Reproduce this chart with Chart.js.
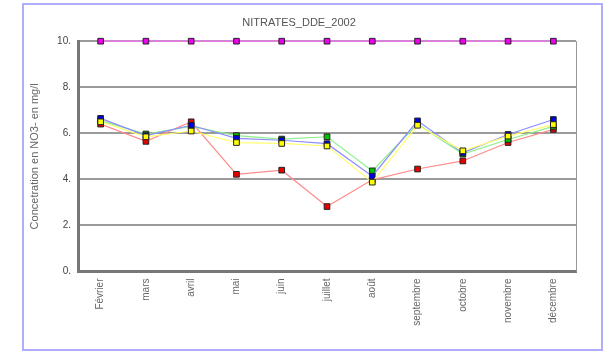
<!DOCTYPE html>
<html lang="fr">
<head>
    <meta charset="UTF-8">
    <title>NITRATES_DDE_2002</title>
    <script src="https://cdn.jsdelivr.net/npm/chart.js"></script>
    <style>
        body {
            margin: 0;
            padding: 0;
            background-color: white;
        }
        canvas {
            display: block;
        }
    </style>
</head>
<body>
    <canvas id="nitrateChart" width="604" height="353"></canvas>

    <script>
        const months = ['Février', 'mars', 'avril', 'mai', 'juin', 'juillet', 'août',
            'septembre', 'octobre', 'novembre', 'décembre'];
        const yTicks = [0, 2, 4, 6, 8, 10];

        const seuil = [10, 10, 10, 10, 10, 10, 10, 10, 10, 10, 10];
        const station1 = [6.4, 5.65, 6.5, 4.22, 4.4, 2.82, 3.98, 4.45, 4.8, 5.6, 6.17];   // rouge
        const station2 = [6.55, 5.97, 6.3, 5.9, 5.75, 5.85, 4.37, 6.4, 5.1, 5.73, 6.3];   // vert
        const station3 = [6.65, 5.9, 6.35, 5.78, 5.7, 5.55, 4.14, 6.54, 5.15, 5.95, 6.6]; // bleu
        const station4 = [6.5, 5.85, 6.1, 5.6, 5.56, 5.45, 3.88, 6.35, 5.24, 5.88, 6.38]; // jaune

        function serie(label, data, line, mark, order) {
            return {
                label: label,
                data: data,
                borderColor: line,
                borderWidth: 1.2,
                backgroundColor: mark,
                pointStyle: 'rect',
                pointRadius: 4,
                pointBorderColor: '#222',
                pointBorderWidth: 1,
                pointBackgroundColor: mark,
                tension: 0,
                clip: false,
                order: order
            };
        }

        // cadre bleu + bord droit de la zone de tracé
        const cadre = {
            id: 'cadre',
            beforeDraw(chart) {
                const c = chart.ctx;
                c.save();
                c.fillStyle = 'white';
                c.fillRect(0, 0, chart.width, chart.height);
                c.strokeStyle = '#aeaefc';
                c.lineWidth = 2;
                c.strokeRect(23, 4, 579, 346);
                c.restore();
            },
            beforeDatasetsDraw(chart) {
                const a = chart.chartArea;
                const c = chart.ctx;
                c.save();
                c.strokeStyle = '#999';
                c.lineWidth = 1;
                c.beginPath();
                c.moveTo(a.right + 0.5, a.top);
                c.lineTo(a.right + 0.5, a.bottom);
                c.stroke();
                c.restore();
            }
        };

        new Chart(document.getElementById('nitrateChart'), {
            type: 'line',
            data: {
                labels: months,
                datasets: [
                    serie('Seuil', seuil, '#ff70ff', '#ee00ee', 0),
                    serie('Station 1', station1, '#ff8c8c', '#e80000', 4),
                    serie('Station 2', station2, '#8cf08c', '#00c000', 3),
                    serie('Station 3', station3, '#8c8cff', '#0000e0', 2),
                    serie('Station 4', station4, '#ffff70', '#ffff00', 1)
                ]
            },
            options: {
                responsive: false,
                animation: false,
                layout: {
                    padding: { left: 22, right: 28, top: 0, bottom: 0 }
                },
                plugins: {
                    legend: { display: false },
                    tooltip: { enabled: false },
                    title: {
                        display: true,
                        text: 'NITRATES_DDE_2002',
                        color: '#555',
                        font: { family: 'Liberation Sans, Arial, sans-serif', size: 11, weight: 'normal' },
                        padding: { top: 16, bottom: 12 }
                    }
                },
                scales: {
                    x: {
                        offset: true,
                        grid: { display: false, drawTicks: false },
                        border: { display: true, color: '#777', width: 3 },
                        ticks: {
                            color: '#666',
                            minRotation: 90,
                            maxRotation: 90,
                            padding: 7,
                            font: { family: 'Liberation Sans, Arial, sans-serif', size: 10 }
                        },
                        afterFit(scale) { scale.height = 81.5; }
                    },
                    y: {
                        min: 0,
                        max: 10,
                        afterBuildTicks(scale) {
                            scale.ticks = yTicks.map(v => ({ value: v }));
                        },
                        grid: { color: '#9a9a9a', lineWidth: 2, drawTicks: false },
                        border: { display: true, color: '#777', width: 3 },
                        ticks: {
                            color: '#444',
                            padding: 7,
                            font: { family: 'Liberation Sans, Arial, sans-serif', size: 10 },
                            callback: v => v + '.'
                        },
                        title: {
                            display: true,
                            text: 'Concetration en NO3- en mg/l',
                            color: '#666',
                            padding: { top: 6, bottom: 0 },
                            font: { family: 'Liberation Sans, Arial, sans-serif', size: 11 }
                        },
                        afterFit(scale) { scale.width = 56; }
                    }
                }
            },
            plugins: [cadre]
        });
    </script>
</body>
</html>
